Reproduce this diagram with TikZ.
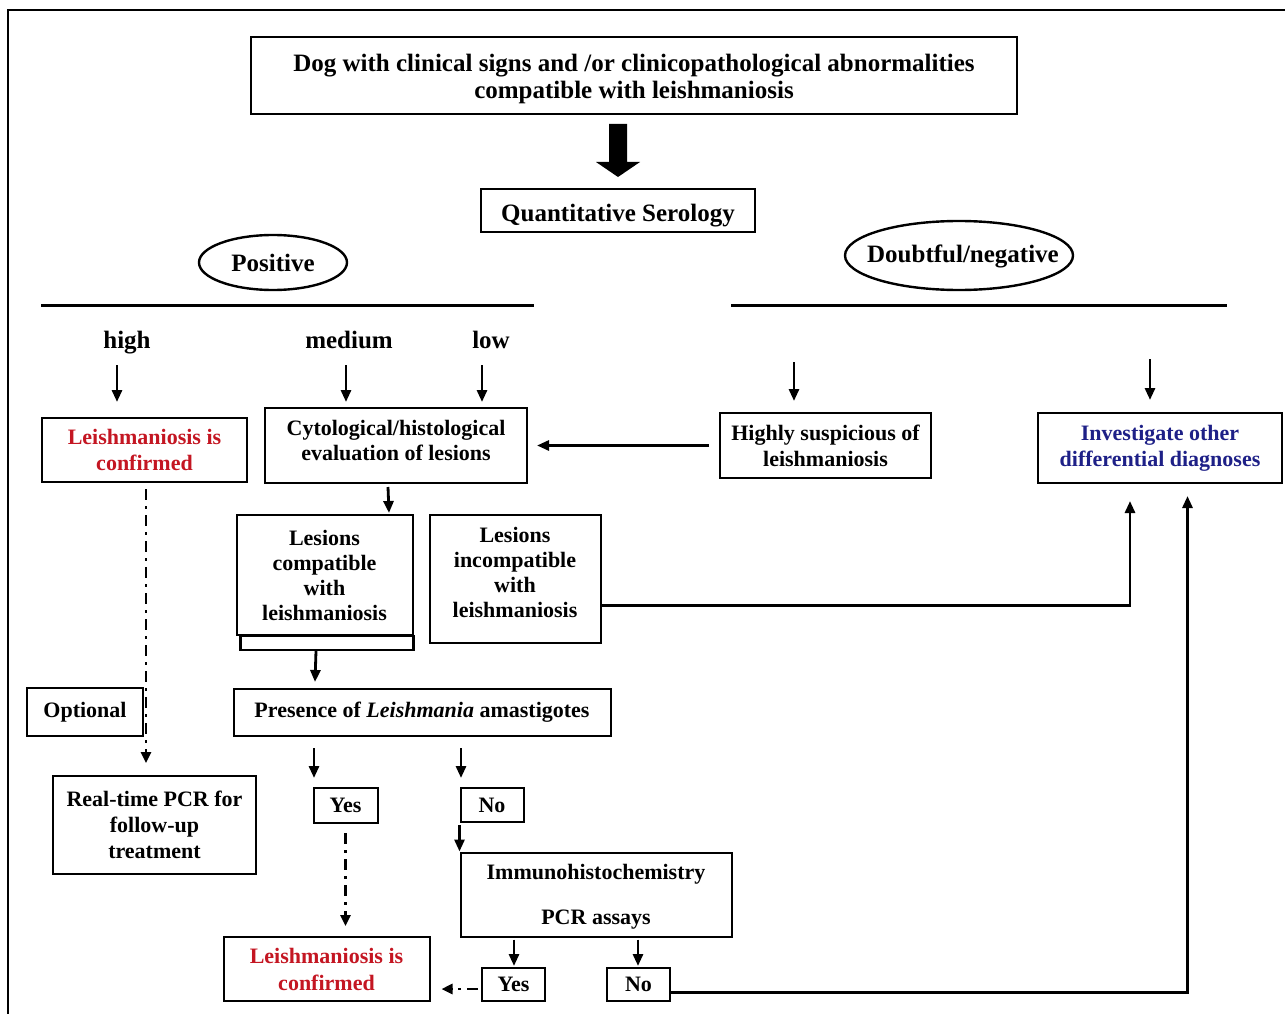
\documentclass[tikz,border=0pt]{standalone}
\usepackage{fontspec}
\setmainfont{Liberation Serif}
\usetikzlibrary{arrows.meta,calc,shapes.geometric}
\definecolor{confred}{RGB}{196,22,34}
\definecolor{diagblue}{RGB}{30,32,135}

\begin{document}
\begin{tikzpicture}[x=1pt,y=-1pt,
  box/.style={draw, line width=2pt, inner sep=0pt, align=center,
    font=\fontsize{22}{26}\selectfont\bfseries},
  bigtext/.style={font=\fontsize{25}{27}\selectfont\bfseries},
  wh/.style 2 args={minimum width=#1pt, minimum height=#2pt},
  lbl/.style={inner sep=0pt, anchor=base, font=\fontsize{25}{30}\selectfont\bfseries},
  arr/.style={line width=2.8pt, -{Triangle[length=12pt,width=10pt]}},
  dd/.style={line width=2.6pt, dash pattern=on 11pt off 6pt on 3pt off 6pt,
    -{Triangle[length=11pt,width=10pt]}},
  rule/.style={line width=3pt},
  ring/.style={line width=2.4pt},
]
\useasboundingbox (0,0) rectangle (1285,1014);
\fill[white] (0,0) rectangle (1285,1014);

% outer frame (open to the right and bottom)
\draw[line width=2.2pt] (8,1014) -- (8,10) -- (1285,10);

% ---- top of the chart ----
\node[box, bigtext, wh={766}{77}, text height=52.4pt, text depth=6pt] (top) at (634,75.5)
  {Dog with clinical signs and /or clinicopathological abnormalities\\compatible with leishmaniosis};
\node[box, bigtext, wh={274}{43}, text height=24pt, text depth=3pt] (sero) at (618,210.5)
  {Quantitative Serology};

% bold block arrow from the question to the serology
\fill ($(sero.north)+(-9,-64)$) -- ($(sero.north)+(9,-64)$) -- ($(sero.north)+(9,-26)$)
  -- ($(sero.north)+(22,-26)$) -- ($(sero.north)+(0,-11)$) -- ($(sero.north)+(-22,-26)$)
  -- ($(sero.north)+(-9,-26)$) -- cycle;

% serology outcomes
\node[bigtext, inner sep=0pt] (pos) at (273,262.5) {Positive};
\draw[ring] (pos.center) ellipse [x radius=74pt, y radius=27.5pt];
\node[bigtext, inner sep=0pt] (neg) at (963,256) {Doubtful/negative};
\draw[ring] (959,255.5) ellipse [x radius=114pt, y radius=34.5pt];

\coordinate (pl1) at (41,305);  \coordinate (pl2) at (534,305);
\coordinate (nl1) at (731,305); \coordinate (nl2) at (1227,305);
\draw[rule] (pl1) -- (pl2);
\draw[rule] (nl1) -- (nl2);

% ---- positive branch ----
\node[lbl] (high) at (127,348) {high};
\node[lbl] (medium) at (349,348) {medium};
\node[lbl] (low) at (491,348) {low};

\node[box, wh={205}{64}, text=confred] (conf1) at (144.5,450) {Leishmaniosis is\\confirmed};
\node[box, wh={262}{75}, font=\fontsize{22}{25}\selectfont\bfseries,
  text height=40pt, text depth=11pt] (cyto) at (396,445.5)
  {Cytological/histological\\evaluation of lesions};

\draw[arr] ($(high.base)+(-10,17)$) -- ($(conf1.north)+(-27.5,-15)$);
\draw[arr] ($(medium.base)+(-3,17)$) -- ($(cyto.north)+(-50,-5)$);
\draw[arr] ($(low.base)+(-9,17)$) -- ($(cyto.north)+(86,-5)$);

% ---- doubtful / negative branch ----
\node[box, wh={211}{65}] (susp) at (825.5,445.5) {Highly suspicious of\\leishmaniosis};
\node[box, wh={244}{70}, text=diagblue] (inv) at (1160,448) {Investigate other\\differential diagnoses};

\coordinate (dsA) at (794,362);
\coordinate (dsB) at (1150,359);
\draw[arr] (dsA) -- ($(susp.north)+(-31.5,-11)$);
\draw[arr] (dsB) -- ($(inv.north)+(-10,-12)$);

\draw[arr] ($(susp.west)+(-10,0)$) -- ($(cyto.east)+(9,0)$);

% ---- lesions ----
\node[box, wh={176}{120}, anchor=north west, font=\fontsize{22}{25}\selectfont\bfseries]
  (lcomp) at (235.5,514) {Lesions\\compatible\\with\\leishmaniosis};
\draw[line width=2.6pt] ($(lcomp.south west)+(5,0)$) rectangle ($(lcomp.south east)+(0,14)$);
\node[box, wh={171}{127.5}, anchor=north west, font=\fontsize{22}{25}\selectfont\bfseries,
  text height=90pt, text depth=12pt] (linc) at (428.5,514)
  {Lesions\\incompatible\\with\\leishmaniosis};

\draw[arr] ($(cyto.south)+(-8,3)$) -- ($(lcomp.north)+(64.5,-1)$);
\draw[arr] ($(linc.east)+(0,27)$) -| ($(inv.south)+(-30,17)$);

% ---- amastigotes ----
\node[box, wh={377}{47}] (pres) at (422,712.5) {Presence of \textit{Leishmania} amastigotes};
\node[box, wh={116}{48}] (opt) at (85,712) {Optional};
\node[box, wh={203}{98}] (pcr) at (154.5,825) {Real-time PCR for\\follow-up\\treatment};

\draw[arr] ($(lcomp.south)+(-8.5,15)$) -- ($(pres.north)+(-107,-6)$);
\draw[dd] ($(conf1.south)+(1.5,6)$) -- ($(pcr.north)+(-8.5,-12)$);

\node[box, wh={64}{35}, text depth=0pt] (yes1) at (345.5,805.5) {Yes};
\node[box, wh={63}{34}] (no1) at (492,805) {No};

\draw[arr] ($(pres.south)+(-108,11)$) -- ($(yes1.north)+(-31.5,-9)$);
\draw[arr] ($(pres.south)+(39,11)$) -- ($(no1.north)+(-31,-9)$);

\node[box, wh={271}{84}, text depth=0pt] (immuno) at (596,894.5)
  {Immunohistochemistry\\[19pt]PCR assays};
\node[box, wh={206}{64}, text=confred, font=\fontsize{22}{27}\selectfont\bfseries]
  (conf2) at (326.5,969) {Leishmaniosis is\\confirmed};
\node[box, wh={63}{33}, text depth=0pt] (yes2) at (513.5,984.5) {Yes};
\node[box, wh={63}{33}] (no2) at (638.5,984.5) {No};

\draw[dd] ($(yes1.south)+(0,9)$) -- ($(conf2.north)+(19,-10)$);
\draw[arr] ([yshift=-2pt]immuno.north west |- no1.south) -- (immuno.north west);
\draw[arr] ($(immuno.south)+(-82,2)$) -- ($(yes2.north)+(0.5,-1)$);
\draw[arr] ($(immuno.south)+(42,2)$) -- ($(no2.north)+(-0.5,-1)$);
\draw[dd] ($(yes2.west)+(-3,4.5)$) -- ($(conf2.east)+(11,20)$);
\draw[arr] ($(no2.east)+(0,8)$) -| ($(inv.south)+(27.5,12)$);

\end{tikzpicture}
\end{document}
